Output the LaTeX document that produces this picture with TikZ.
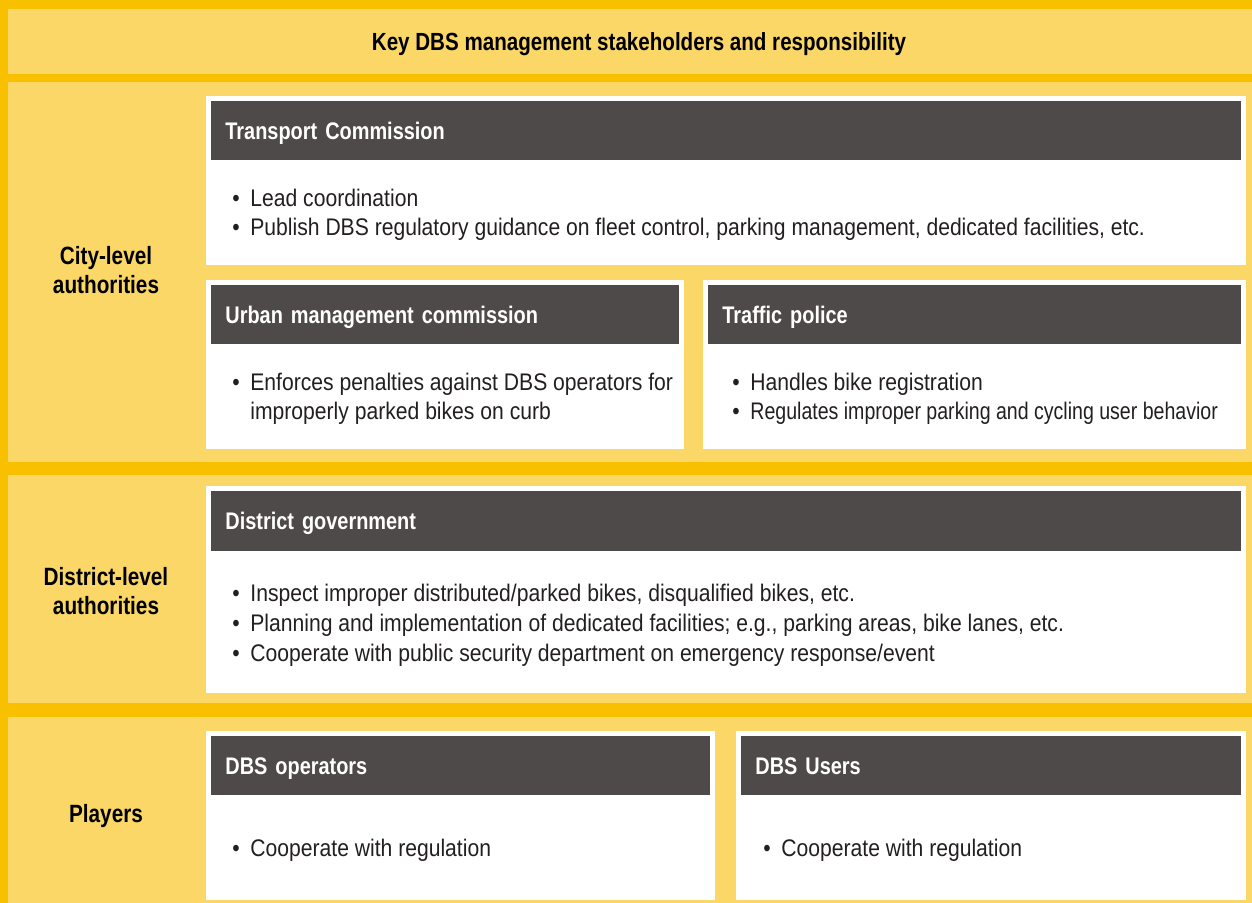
\documentclass[tikz,border=0pt]{standalone}
\usepackage{fontspec}
\setmainfont{Liberation Sans}[FakeStretch=0.88, BoldFeatures={FakeStretch=0.83}]
\newfontfamily\narrowfont{Liberation Sans}[FakeStretch=0.815]
\usetikzlibrary{positioning}

\definecolor{frameyellow}{HTML}{F9C000}
\definecolor{panelyellow}{HTML}{FAD766}
\definecolor{headgray}{HTML}{4E4A49}
\definecolor{bodytext}{HTML}{231F20}

\newcommand{\bul}{\makebox[9pt][l]{\textbullet}}

\tikzset{
  panel/.style={fill=panelyellow, draw=none},
  card/.style={fill=white, draw=none, anchor=north west, inner sep=0pt},
  headbar/.style={fill=headgray, text=white, anchor=north west, inner xsep=7pt,
    inner ysep=0pt, align=left, text height=10pt, text depth=1.5pt,
    font=\bfseries\fontsize{12}{14}\selectfont},
  itemtxt/.style={anchor=base west, inner sep=0pt, align=left, text=bodytext,
    font=\fontsize{12}{14.6}\selectfont},
  rowlabel/.style={align=center, text=black, font=\bfseries\fontsize{12.5}{14.5}\selectfont}
}

\begin{document}
\begin{tikzpicture}[x=0.5pt, y=-0.5pt]
  \useasboundingbox (0,0) rectangle (1252,903);
  \fill[frameyellow] (0,0) rectangle (1252,903);

  % bands
  \fill[panel] (8,9) rectangle (1252,74);
  \fill[panel] (8,82) rectangle (1252,462);
  \fill[panel] (8,475) rectangle (1252,703);
  \fill[panel] (8,717) rectangle (1252,903);

  \node[font=\bfseries\fontsize{12.4}{14}\selectfont] (title) at (639,44)
    {Key DBS management stakeholders and responsibility};

  % row labels
  \node[rowlabel] (city) at (106,270) {City-level\\authorities};
  \node[rowlabel] (district) at (106,591) {District-level\\authorities};
  \node[rowlabel] (players) at (106,816) {Players};

  % city level (text nodes sit on the baseline of their last line)
  \node[card, minimum width=520pt, minimum height=84.5pt] (tccard) at (206,96) {};
  \node[headbar, minimum height=29.5pt, text width=501pt] (tchead) at (211,101) {Transport Commission};
  \node[itemtxt] (tctxt) at (232,235.5)
    {\bul Lead coordination\\
     \bul Publish DBS regulatory guidance on fleet control, parking management, dedicated facilities, etc.};

  \node[card, minimum width=239pt, minimum height=84.5pt] (umcard) at (206,280) {};
  \node[headbar, minimum height=29.5pt, text width=220pt] (umhead) at (211,285) {Urban management commission};
  \node[itemtxt] (umtxt) at (232,419.5)
    {\bul Enforces penalties against DBS operators for\\
     \hspace*{9pt}improperly parked bikes on curb};

  \node[card, minimum width=271.5pt, minimum height=84.5pt] (tpcard) at (703,280) {};
  \node[headbar, minimum height=29.5pt, text width=252.5pt] (tphead) at (708,285) {Traffic police};
  \node[itemtxt] (tptxt) at (732,419.5)
    {\bul Handles bike registration\\
     \bul {\narrowfont Regulates improper parking and cycling user behavior}};

  % district level
  \node[card, minimum width=520pt, minimum height=103.5pt] (dgcard) at (206,486) {};
  \node[headbar, minimum height=30pt, text width=501pt] (dghead) at (211,491) {District government};
  \node[itemtxt, font=\fontsize{12}{14.9}\selectfont] (dgtxt) at (232,661)
    {\bul Inspect improper distributed/parked bikes, disqualified bikes, etc.\\
     \bul Planning and implementation of dedicated facilities; e.g., parking areas, bike lanes, etc.\\
     \bul Cooperate with public security department on emergency response/event};

  % players
  \node[card, minimum width=254.5pt, minimum height=84.5pt] (opcard) at (206,731) {};
  \node[headbar, minimum height=29.5pt, text width=235.5pt] (ophead) at (211,736) {DBS operators};
  \node[itemtxt] (optxt) at (232,856.5) {\bul Cooperate with regulation};

  \node[card, minimum width=255pt, minimum height=84.5pt] (uscard) at (736,731) {};
  \node[headbar, minimum height=29.5pt, text width=236pt] (ushead) at (741,736) {DBS Users};
  \node[itemtxt] (ustxt) at (763,856.5) {\bul Cooperate with regulation};
\end{tikzpicture}
\end{document}
